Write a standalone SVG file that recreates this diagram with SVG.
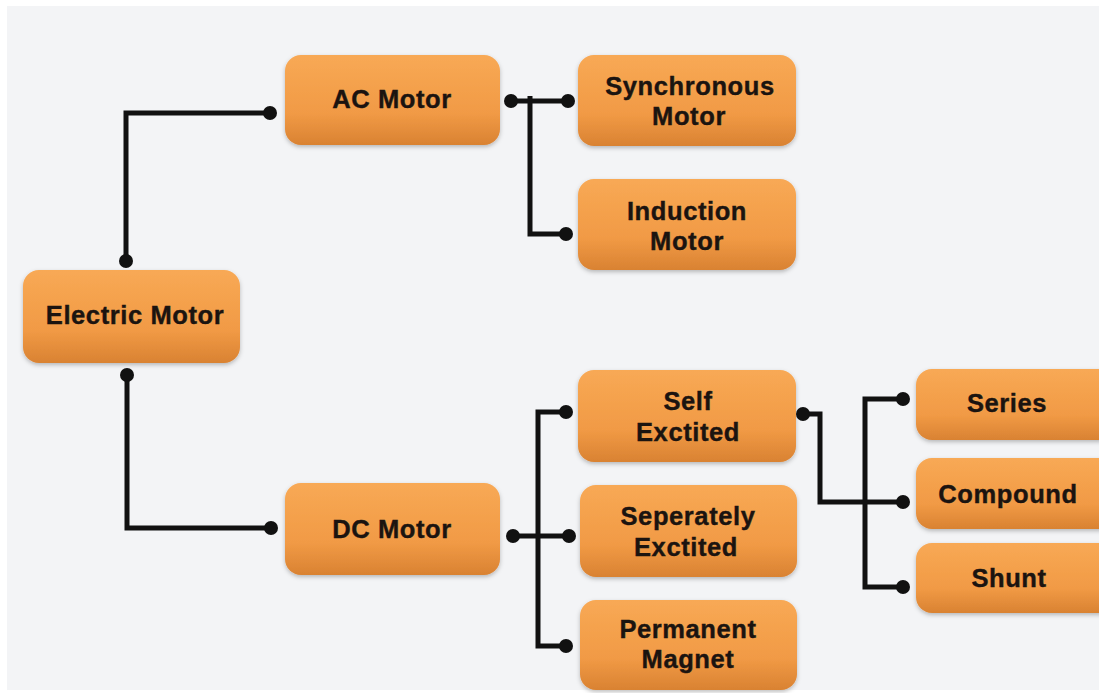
<svg xmlns="http://www.w3.org/2000/svg" width="1099" height="693" viewBox="0 0 1099 693">
<defs>
<linearGradient id="og" x1="0" y1="0" x2="0" y2="1">
<stop offset="0" stop-color="#f8a955"/>
<stop offset="0.65" stop-color="#f19a45"/>
<stop offset="1" stop-color="#d98232"/>
</linearGradient>
<filter id="sh" x="-10%" y="-10%" width="120%" height="130%">
<feDropShadow dx="0" dy="2" stdDeviation="2" flood-color="#000" flood-opacity="0.25"/>
</filter>
<style>
.box{fill:url(#og);filter:url(#sh)}
.t{font-family:"Liberation Sans",Arial,sans-serif;font-weight:bold;font-size:25.5px;letter-spacing:0.6px;fill:#1b1410;stroke:#1b1410;stroke-width:0.4;text-anchor:middle}
.c{fill:none;stroke:#111;stroke-width:5}
.d{fill:#111}
</style>
</defs>
<rect x="0" y="0" width="1099" height="693" fill="#ffffff"/>
<rect x="7" y="6" width="1092" height="684" fill="#f3f4f6"/>
<g id="connectors">
<path class="c" d="M126 261 V113 H270"/>
<path class="c" d="M127 375 V528 H271"/>
<path class="c" d="M511 101 H568 M530 96 V234 H566"/>
<path class="c" d="M513 536 H569 M566 412 H538 V646 H566"/>
<path class="c" d="M803 414 H820 V502 H903 M903 399 H865 V587 H903"/>
<circle class="d" cx="126" cy="261" r="7"/>
<circle class="d" cx="270" cy="113" r="7"/>
<circle class="d" cx="127" cy="375" r="7"/>
<circle class="d" cx="271" cy="528" r="7"/>
<circle class="d" cx="511" cy="101" r="7"/>
<circle class="d" cx="568" cy="101" r="7"/>
<circle class="d" cx="566" cy="234" r="7"/>
<circle class="d" cx="513" cy="536" r="7"/>
<circle class="d" cx="569" cy="536" r="7"/>
<circle class="d" cx="566" cy="412" r="7"/>
<circle class="d" cx="566" cy="646" r="7"/>
<circle class="d" cx="803" cy="414" r="7"/>
<circle class="d" cx="903" cy="399" r="7"/>
<circle class="d" cx="903" cy="502" r="7"/>
<circle class="d" cx="903" cy="587" r="7"/>
</g>
<g id="electric-motor"><rect class="box" x="23" y="270" width="217" height="93" rx="16"/><text class="t" x="135" y="324">Electric Motor</text></g>
<g id="ac-motor"><rect class="box" x="285" y="55" width="215" height="90" rx="16"/><text class="t" x="392" y="108">AC Motor</text></g>
<g id="dc-motor"><rect class="box" x="285" y="483" width="215" height="92" rx="16"/><text class="t" x="392" y="538">DC Motor</text></g>
<g id="synchronous-motor"><rect class="box" x="578" y="55" width="218" height="91" rx="16"/><text class="t" x="690" y="95">Synchronous</text><text class="t" x="689" y="125">Motor</text></g>
<g id="induction-motor"><rect class="box" x="578" y="179" width="218" height="91" rx="16"/><text class="t" x="687" y="220">Induction</text><text class="t" x="687" y="250">Motor</text></g>
<g id="self-excited"><rect class="box" x="578" y="370" width="218" height="92" rx="16"/><text class="t" x="688" y="410">Self</text><text class="t" x="688" y="441">Exctited</text></g>
<g id="separately-excited"><rect class="box" x="580" y="485" width="217" height="92" rx="16"/><text class="t" x="688" y="525">Seperately</text><text class="t" x="686" y="556">Exctited</text></g>
<g id="permanent-magnet"><rect class="box" x="580" y="600" width="217" height="90" rx="16"/><text class="t" x="688" y="638">Permanent</text><text class="t" x="688" y="668">Magnet</text></g>
<g id="series"><rect class="box" x="916" y="369" width="200" height="71" rx="16"/><text class="t" x="1007" y="412">Series</text></g>
<g id="compound"><rect class="box" x="916" y="458" width="200" height="71" rx="16"/><text class="t" x="1008" y="503">Compound</text></g>
<g id="shunt"><rect class="box" x="916" y="543" width="200" height="70" rx="16"/><text class="t" x="1009" y="587">Shunt</text></g>
</svg>
